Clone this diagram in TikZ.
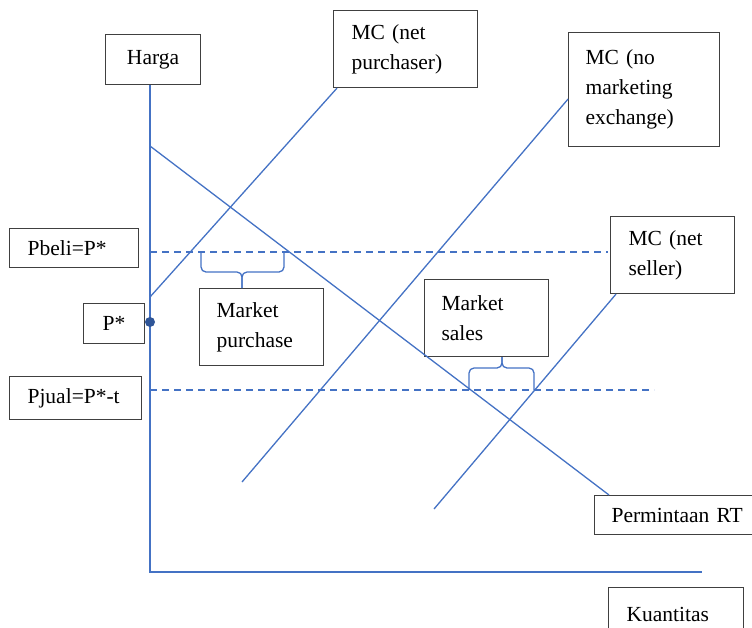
\documentclass[tikz,border=0pt]{standalone}
\usepackage{fontspec}
\setmainfont{Liberation Serif}
\definecolor{curve}{HTML}{4472C4}
\definecolor{dotblue}{HTML}{2F5597}
\definecolor{boxgray}{HTML}{404040}
\begin{document}
\begin{tikzpicture}[x=1pt,y=-1pt,
  box/.style={draw=boxgray, line width=1.1pt, inner sep=0pt, anchor=north west,
    font=\fontsize{21.5}{30}\selectfont, align=left},
  curveline/.style={draw=curve, line width=1.3pt},
  dashline/.style={draw=curve, line width=1.3pt, dash pattern=on 7pt off 5pt},
  bracepath/.style={draw=curve, line width=1.3pt, rounded corners=5pt}]
\useasboundingbox (0,0) rectangle (752,627);
\clip (0,0) rectangle (752,627);

% labels
\node[box, align=center, minimum width=95pt, minimum height=50pt] (harga) at (105,34) {Harga};
\node[box, minimum width=144pt, minimum height=77pt, text width=108pt] (mcbuy) at (333,10) {MC (net\\purchaser)};
\node[box, minimum width=151pt, minimum height=114pt, text width=117pt] (mcnone) at (568,32) {MC (no\\marketing\\exchange)};
\node[box, minimum width=124pt, minimum height=77pt, text width=88pt] (mcsell) at (610,216) {MC (net\\seller)};
\node[box, minimum width=124pt, minimum height=77pt, text width=90pt] (mpur) at (199,288) {Market\\purchase};
\node[box, minimum width=124pt, minimum height=77pt, text width=90pt] (msales) at (424,279) {Market\\sales};
\node[box, align=center, minimum width=61pt, minimum height=40pt] (pstar) at (83,303) {P*};
\node[box, minimum width=129pt, minimum height=39pt, text width=93pt] (pbeli) at (9,228) {Pbeli=P*};
\node[box, minimum width=132pt, minimum height=43pt, text width=96pt] (pjual) at (9,376) {Pjual=P*-t};
\node[box, minimum width=170pt, minimum height=39pt, text width=136pt] (perm) at (594,495) {Permintaan RT};
\node[box, minimum width=135pt, minimum height=53pt, text width=99pt] (kuant) at (608,587) {Kuantitas};

% axes
\coordinate (origin) at (150,572);
\coordinate (xend) at (702,572);
\draw[curveline] (origin |- harga.south) -- (origin) -- (xend);

% demand curve
\coordinate (dtop) at (150,146);
\draw[curveline] (dtop) -- ([xshift=15pt]perm.north west);

% marginal cost curves
\coordinate (buylow) at (150,297);
\draw[curveline] (buylow) -- ([xshift=4pt]mcbuy.south west);
\coordinate (nonelow) at (242,482);
\draw[curveline] (nonelow) -- ([yshift=48pt]mcnone.south west);
\coordinate (selllow) at (434,509);
\draw[curveline] (selllow) -- ([xshift=6pt]mcsell.south west);

% price levels
\coordinate (pb) at (150,252);
\coordinate (pbend) at (608,252);
\draw[dashline] (pb) -- (pbend);
\coordinate (pj) at (150,390);
\coordinate (pjend) at (654,390);
\draw[dashline] (pj) -- (pjend);

% equilibrium price marker
\node[circle, fill=dotblue, minimum size=10pt, inner sep=0pt] (pdot) at (150,322) {};

% brace for market purchase
\draw[bracepath] (201,252) -- (201,272) -- (242,272) -- (mpur.north -| 242,0);
\draw[bracepath] (284,252) -- (284,272) -- (242,272) -- (mpur.north -| 242,0);

% brace for market sales
\draw[bracepath] (469,390) -- (469,368) -- (502,368) -- (msales.south -| 502,0);
\draw[bracepath] (534,390) -- (534,368) -- (502,368) -- (msales.south -| 502,0);
\end{tikzpicture}
\end{document}
